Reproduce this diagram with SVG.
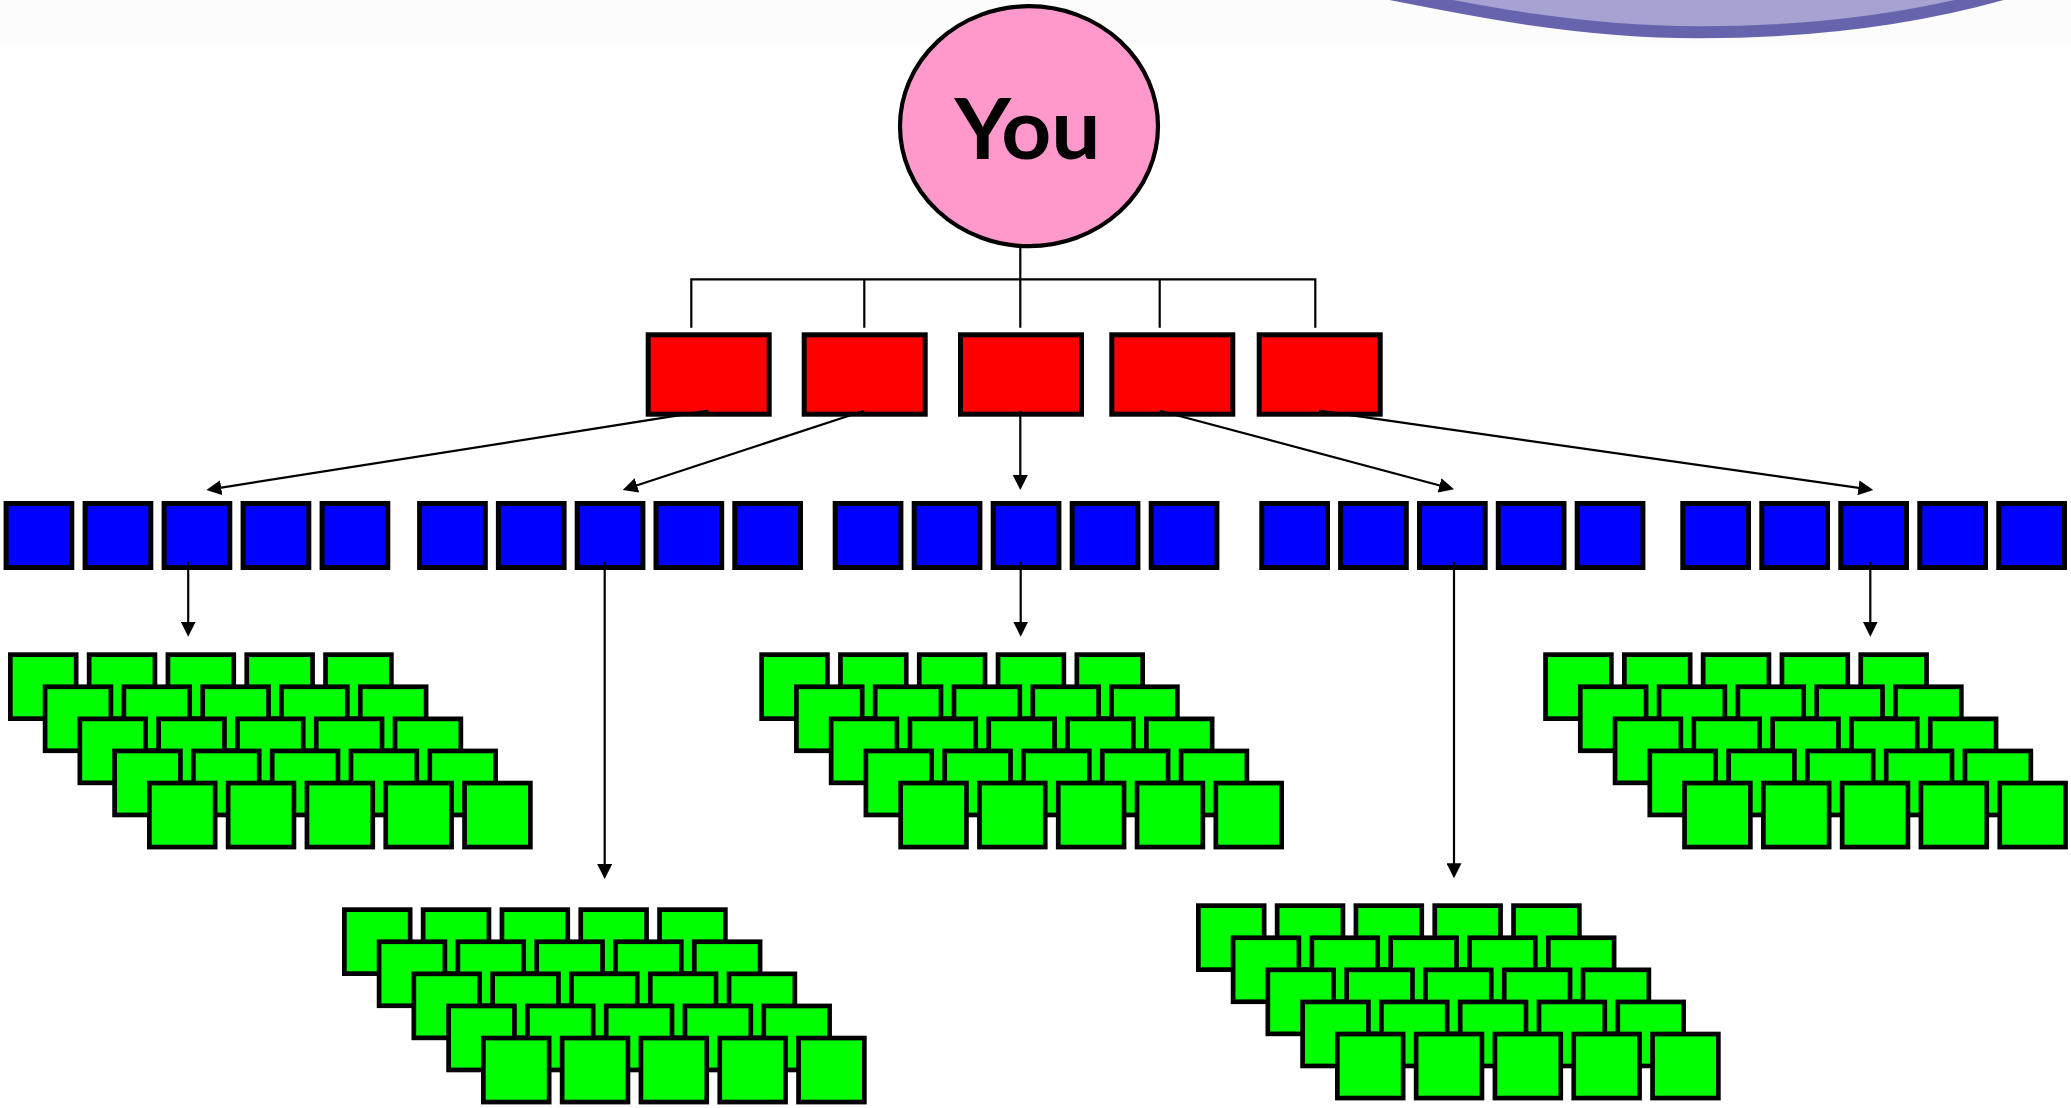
<svg xmlns="http://www.w3.org/2000/svg" xmlns:xlink="http://www.w3.org/1999/xlink" width="2071" height="1108" viewBox="0 0 2071 1108">
<style>
.red{fill:#FF0000;stroke:#000;stroke-width:5}
.blue{fill:#0000FF;stroke:#000;stroke-width:5}
.green{fill:#00FF00;stroke:#000;stroke-width:4.7}
.con{fill:none;stroke:#000;stroke-width:2.2}
.arr{fill:none;stroke:#000;stroke-width:2.2;marker-end:url(#ah)}
</style>
<defs>
<marker id="ah" markerUnits="userSpaceOnUse" markerWidth="15" markerHeight="15" viewBox="0 0 15 15" refX="11" refY="7.5" orient="auto">
<path d="M0,0 L15,7.5 L0,15 z" fill="#000"/>
</marker>
<g id="grow">
<rect class="green" x="2.35" y="2.35" width="65.8" height="64"/>
<rect class="green" x="81.15" y="2.35" width="65.8" height="64"/>
<rect class="green" x="159.95" y="2.35" width="65.8" height="64"/>
<rect class="green" x="238.75" y="2.35" width="65.8" height="64"/>
<rect class="green" x="317.55" y="2.35" width="65.8" height="64"/>
</g>
<g id="cluster">
<use xlink:href="#grow" href="#grow" transform="translate(0,0)"/>
<use xlink:href="#grow" href="#grow" transform="translate(34.75,32.1)"/>
<use xlink:href="#grow" href="#grow" transform="translate(69.5,64.2)"/>
<use xlink:href="#grow" href="#grow" transform="translate(104.25,96.3)"/>
<use xlink:href="#grow" href="#grow" transform="translate(139,128.4)"/>
</g>
</defs>
<rect x="0" y="0" width="2071" height="1108" fill="#FFFFFF"/>
<rect x="0" y="0" width="2071" height="43.7" fill="#FCFCFC"/>
<path d="M1380,-8 C1480,12 1580,32 1697,32.3 C1820,32.5 1920,18 2010,-8 L2010,-40 L1380,-40 Z" fill="#A6A3D2" stroke="#6764AE" stroke-width="12"/>

<g id="you">
<ellipse cx="1029" cy="126.2" rx="129" ry="120" fill="#FF99CC" stroke="#000" stroke-width="4.2"/>
<text x="1027.5" y="159.3" text-anchor="middle" font-family="Lato,'Open Sans','Liberation Sans',sans-serif" font-weight="bold" font-size="85" textLength="146" lengthAdjust="spacingAndGlyphs" fill="#000">You</text>
</g>

<g id="red1"><rect class="red" x="648.2" y="334.8" width="121" height="79.4"/></g>
<g id="red2"><rect class="red" x="804.2" y="334.8" width="121" height="79.4"/></g>
<g id="red3"><rect class="red" x="960.5" y="334.8" width="121" height="79.4"/></g>
<g id="red4"><rect class="red" x="1111.8" y="334.8" width="121" height="79.4"/></g>
<g id="red5"><rect class="red" x="1259.2" y="334.8" width="121" height="79.4"/></g>

<g id="blue1">
<rect class="blue" x="6.1" y="503.5" width="65.7" height="64"/>
<rect class="blue" x="85.1" y="503.5" width="65.7" height="64"/>
<rect class="blue" x="164.1" y="503.5" width="65.7" height="64"/>
<rect class="blue" x="243.1" y="503.5" width="65.7" height="64"/>
<rect class="blue" x="322.1" y="503.5" width="65.7" height="64"/>
</g>
<g id="blue2">
<rect class="blue" x="419.6" y="503.5" width="65.7" height="64"/>
<rect class="blue" x="498.4" y="503.5" width="65.7" height="64"/>
<rect class="blue" x="577.2" y="503.5" width="65.7" height="64"/>
<rect class="blue" x="656" y="503.5" width="65.7" height="64"/>
<rect class="blue" x="734.8" y="503.5" width="65.7" height="64"/>
</g>
<g id="blue3">
<rect class="blue" x="835.2" y="503.5" width="65.7" height="64"/>
<rect class="blue" x="914.2" y="503.5" width="65.7" height="64"/>
<rect class="blue" x="993.2" y="503.5" width="65.7" height="64"/>
<rect class="blue" x="1072.2" y="503.5" width="65.7" height="64"/>
<rect class="blue" x="1151.2" y="503.5" width="65.7" height="64"/>
</g>
<g id="blue4">
<rect class="blue" x="1261.8" y="503.5" width="65.7" height="64"/>
<rect class="blue" x="1340.6" y="503.5" width="65.7" height="64"/>
<rect class="blue" x="1419.5" y="503.5" width="65.7" height="64"/>
<rect class="blue" x="1498.3" y="503.5" width="65.7" height="64"/>
<rect class="blue" x="1577.2" y="503.5" width="65.7" height="64"/>
</g>
<g id="blue5">
<rect class="blue" x="1682.8" y="503.5" width="65.7" height="64"/>
<rect class="blue" x="1761.8" y="503.5" width="65.7" height="64"/>
<rect class="blue" x="1840.8" y="503.5" width="65.7" height="64"/>
<rect class="blue" x="1919.8" y="503.5" width="65.7" height="64"/>
<rect class="blue" x="1998.8" y="503.5" width="65.7" height="64"/>
</g>

<g id="green1"><use xlink:href="#cluster" href="#cluster" transform="translate(8,652.3)"/></g>
<g id="green2"><use xlink:href="#cluster" href="#cluster" transform="translate(342,907.3)"/></g>
<g id="green3"><use xlink:href="#cluster" href="#cluster" transform="translate(759.3,652.3)"/></g>
<g id="green4"><use xlink:href="#cluster" href="#cluster" transform="translate(1196,903.3)"/></g>
<g id="green5"><use xlink:href="#cluster" href="#cluster" transform="translate(1543.2,652.3)"/></g>

<g id="connectors">
<path class="con" d="M1020.3,246 V279.3"/>
<path class="con" d="M691.3,327.7 V279.3 H1315.3 V327.7"/>
<path class="con" d="M864.3,279.3 V327.7 M1020.3,279.3 V327.7 M1159.7,279.3 V327.7"/>
<path class="arr" d="M708.3,410.7 L210.35,489.38"/>
<path class="arr" d="M864.3,410.7 L626.5,488.75"/>
<path class="arr" d="M1020.3,410.7 L1020.3,486"/>
<path class="arr" d="M1159.7,410.7 L1450.14,488.27"/>
<path class="arr" d="M1319,410.7 L1869.34,489.43"/>
<path class="arr" d="M188.2,561.7 L188.2,632.7"/>
<path class="arr" d="M604.7,561.7 L604.7,875"/>
<path class="arr" d="M1020.7,561.7 L1020.7,632.7"/>
<path class="arr" d="M1454,561.7 L1454,874.3"/>
<path class="arr" d="M1870.3,561.7 L1870.3,632.7"/>
</g>
</svg>
